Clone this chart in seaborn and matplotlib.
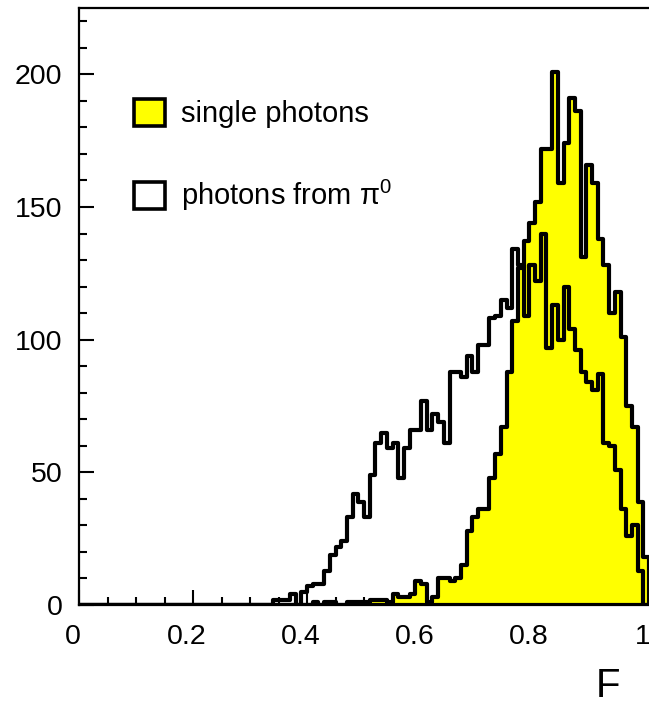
import numpy as np
import pandas as pd
import seaborn as sns
import matplotlib.pyplot as plt
from matplotlib.patches import Patch
from matplotlib.ticker import MultipleLocator
from matplotlib.transforms import ScaledTranslation

# 100 bins of width 0.01 on F in [0, 1]
n_bins = 100
f_range = (0, 1)

single_photons = [
    0, 0, 0, 0, 0, 0, 0, 0, 0, 0,
    0, 0, 0, 0, 0, 0, 0, 0, 0, 0,
    0, 0, 0, 0, 0, 0, 0, 0, 0, 0,
    0, 0, 0, 0, 0, 0, 0, 0, 0, 0,
    0, 1, 0, 1, 1, 0, 0, 1, 1, 1,
    1, 2, 2, 2, 1, 4, 3, 3, 4, 9,
    8, 1, 3, 10, 10, 9, 10, 15, 28, 33,
    36, 36, 48, 57, 67, 88, 107, 127, 137, 144,
    152, 172, 172, 201, 159, 174, 191, 186, 131, 166,
    159, 138, 128, 110, 118, 101, 75, 67, 39, 18,
]

pi0_photons = [
    0, 0, 0, 0, 0, 0, 0, 0, 0, 0,
    0, 0, 0, 0, 0, 0, 0, 0, 0, 0,
    0, 0, 0, 0, 0, 0, 0, 0, 0, 0,
    0, 0, 0, 0, 2, 2, 2, 4, 0, 5,
    7, 8, 8, 13, 19, 22, 24, 33, 42, 39,
    33, 49, 61, 65, 59, 61, 48, 59, 66, 66,
    77, 66, 72, 69, 61, 88, 88, 86, 94, 88,
    98, 98, 108, 109, 115, 112, 134, 128, 109, 128,
    122, 140, 97, 113, 100, 120, 104, 96, 88, 84,
    81, 87, 61, 60, 51, 36, 26, 30, 13, 0,
]

x_ticks = [0, 0.2, 0.4, 0.6, 0.8, 1.0]
x_tick_labels = ['0', '0.2', '0.4', '0.6', '0.8', '1']
y_ticks = [0, 50, 100, 150, 200]

edges = np.linspace(f_range[0], f_range[1], n_bins + 1)
df = pd.DataFrame({
    'F': (edges[:-1] + edges[1:]) / 2,
    'single': single_photons,
    'pi0': pi0_photons,
})

sns.set_style('white')
plt.rcParams['font.family'] = ['Liberation Sans', 'DejaVu Sans']
plt.rcParams['mathtext.fontset'] = 'custom'
plt.rcParams['mathtext.rm'] = 'Liberation Sans'
plt.rcParams['mathtext.it'] = 'Liberation Sans:italic'
plt.rcParams['text.color'] = 'black'
plt.rcParams['xtick.color'] = 'black'
plt.rcParams['ytick.color'] = 'black'

fig = plt.figure(figsize=(6.49, 7.04), dpi=100)
# axis runs a bit past F=1, the right part is cut off by the figure edge
ax = fig.add_axes([79 / 649, 99 / 704, 1.06 * 570 / 649, 597 / 704])

sns.histplot(data=df, x='F', weights='single', bins=n_bins, binrange=f_range,
             element='step', fill=True, color='#ffff00', edgecolor='black',
             linewidth=3.0, alpha=1, ax=ax)
sns.histplot(data=df, x='F', weights='pi0', bins=n_bins, binrange=f_range,
             element='step', fill=False, color='black', linewidth=3.0, ax=ax)

ax.set_xlim(0, 1.06)
ax.set_ylim(0, 225)
ax.set_xticks(x_ticks)
ax.set_xticklabels(x_tick_labels)
ax.set_yticks(y_ticks)
ax.xaxis.set_minor_locator(MultipleLocator(0.05))
ax.yaxis.set_minor_locator(MultipleLocator(10))
ax.tick_params(which='major', direction='in', length=11, width=1.5,
               labelsize=20.5, labelcolor='black', top=False, right=False,
               bottom=True, left=True)
ax.tick_params(which='minor', direction='in', length=5.5, width=1.5,
               top=False, right=False, bottom=True, left=True)
ax.tick_params(axis='x', which='major', pad=14)
ax.tick_params(axis='y', which='major', pad=12)
for lbl in ax.get_xticklabels():
    lbl.set_transform(lbl.get_transform() + ScaledTranslation(-6 / 100, 0, fig.dpi_scale_trans))

for side in ['top', 'left', 'bottom', 'right']:
    ax.spines[side].set_linewidth(1.6)
    ax.spines[side].set_color('black')

ax.set_ylabel('')
ax.set_xlabel('F', fontsize=29, color='black')
ax.xaxis.label.set_va('baseline')
ax.xaxis.set_label_coords((608 - 79) / (1.06 * 570), (605 - 697) / 597)

handles = [
    Patch(facecolor='#ffff00', edgecolor='black', linewidth=2.6, label='single photons'),
    Patch(facecolor='white', edgecolor='black', linewidth=2.6, label='photons from π$^{0}$'),
]
ax.legend(handles=handles, loc='upper left', bbox_to_anchor=(134 / 649, 1 - 99 / 704),
          bbox_transform=fig.transFigure, frameon=False, fontsize=21,
          handlelength=1.06, handleheight=1.05, handletextpad=0.55,
          labelspacing=1.7, borderpad=0, borderaxespad=0, labelcolor='black')

fig.savefig('out.png', dpi=100)
